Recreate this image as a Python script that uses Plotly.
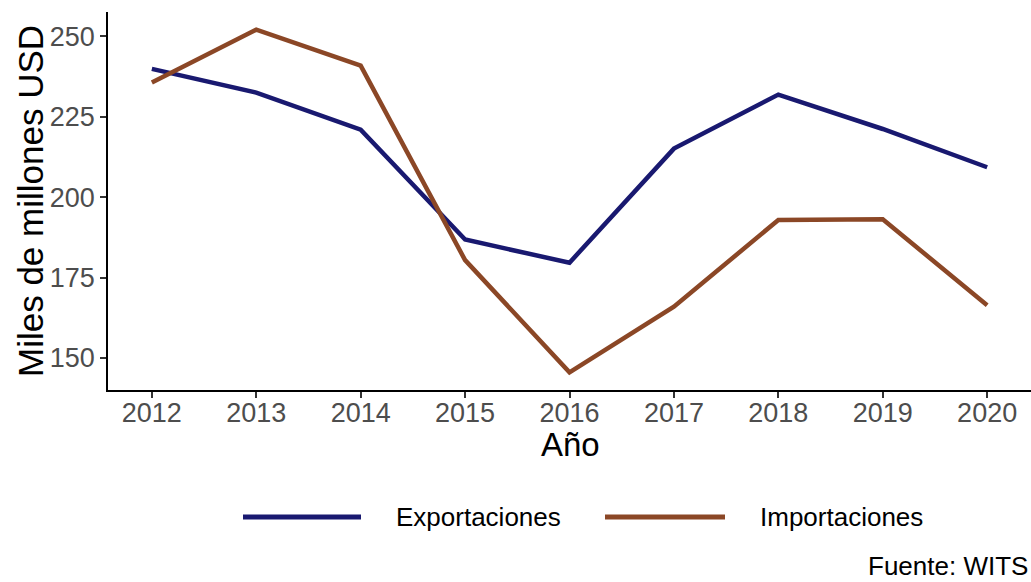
import plotly.graph_objects as go

# datos (miles de millones USD)
anios = [2012, 2013, 2014, 2015, 2016, 2017, 2018, 2019, 2020]
exportaciones = [239.9, 232.5, 221.0, 186.8, 179.6, 215.1, 231.9, 221.2, 209.3]
importaciones = [235.7, 252.1, 240.9, 180.4, 145.5, 165.9, 192.9, 193.1, 166.4]
series = ["Exportaciones", "Importaciones"]
colores = ["#191970", "#8B4726"]
yticks = [150, 175, 200, 225, 250]

FONT = "Liberation Sans, Arial, sans-serif"

fig = go.Figure()
for nombre, valores, col in zip(series, [exportaciones, importaciones], colores):
    fig.add_trace(go.Scatter(x=anios, y=valores, mode="lines", name=nombre,
                             line=dict(color=col, width=4.5), showlegend=False))

# leyenda dibujada a mano (claves largas como en ggplot)
W, H = 923, 378
L, B = 108, 390
def px(x):
    return (x - L) / W
def py(y):
    return (B - y) / H

ley = [(243, 361, 394), (605, 725, 758)]
for (x0, x1, xt), nombre, col in zip(ley, series, colores):
    fig.add_shape(type="line", xref="paper", yref="paper",
                  x0=px(x0), x1=px(x1), y0=py(517), y1=py(517),
                  line=dict(color=col, width=5))
    fig.add_annotation(text=nombre, xref="paper", yref="paper", x=px(xt), y=py(517),
                       xanchor="left", yanchor="middle", showarrow=False,
                       font=dict(size=26, color="black", family=FONT))

fig.add_annotation(text="Fuente: WITS", xref="paper", yref="paper", x=px(1029), y=py(566),
                   xanchor="right", yanchor="middle", showarrow=False, borderpad=0,
                   font=dict(size=26, color="black", family=FONT))

# titulos de ejes
fig.add_annotation(text="Año", xref="paper", yref="paper", x=px(570), y=py(444),
                   xanchor="center", yanchor="middle", showarrow=False,
                   font=dict(size=33, color="black", family=FONT))
fig.add_annotation(text="Miles de millones USD", xref="paper", yref="paper", x=px(30), y=py(201),
                   xanchor="center", yanchor="middle", showarrow=False, textangle=-90,
                   font=dict(size=35, color="black", family=FONT))

fig.update_layout(
    width=1031, height=582,
    margin=dict(l=L, r=0, t=12, b=582 - B),
    plot_bgcolor="white", paper_bgcolor="white",
    font=dict(family=FONT),
    xaxis=dict(range=[2011.58, 2020.42], tickvals=anios, showgrid=False, zeroline=False,
               showline=True, linecolor="black", linewidth=1.5,
               ticks="outside", ticklen=6, tickcolor="#333333", tickwidth=1.5,
               ticklabelstandoff=-8,
               tickfont=dict(size=27, color="#4D4D4D")),
    yaxis=dict(range=[140.0, 257.6], tickvals=yticks, showgrid=False, zeroline=False,
               showline=True, linecolor="black", linewidth=1.5,
               ticks="outside", ticklen=6, tickcolor="#333333", tickwidth=1.5,
               tickfont=dict(size=27, color="#4D4D4D")),
)

fig.write_html("out.html", config={"displayModeBar": False},
               post_script="document.body.style.margin='0';")
